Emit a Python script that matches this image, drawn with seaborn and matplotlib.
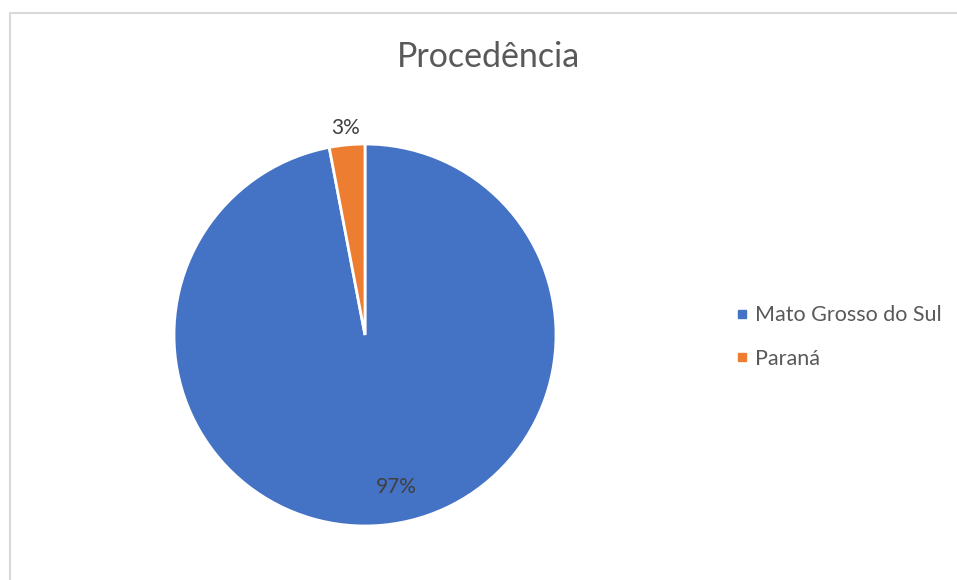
import matplotlib
matplotlib.use("Agg")
import matplotlib.pyplot as plt
from matplotlib.lines import Line2D
import numpy as np
import seaborn as sns

categories = ["Mato Grosso do Sul", "Paraná"]
values = [97, 3]
pct_labels = ["97%", "3%"]
colors = ["#4472C4", "#ED7D31"]
title = "Procedência"

sns.set_theme(style="white")
plt.rcParams['font.family'] = ['Lato', 'DejaVu Sans']

fig = plt.figure(figsize=(9.57, 5.8), dpi=100)
fig.patch.set_facecolor("white")

# border lines (left and top)
fig.add_artist(Line2D([10/957, 10/957], [0, 1 - 13/580], color="#D9D9D9", lw=1.5,
                      transform=fig.transFigure))
fig.add_artist(Line2D([10/957, 1], [1 - 13/580, 1 - 13/580], color="#D9D9D9", lw=1.5,
                      transform=fig.transFigure))

ax = fig.add_axes([174/957, 54/580, 382/957, 382/580])
wedges, _ = ax.pie(values, colors=colors, startangle=90, counterclock=False,
                   wedgeprops=dict(edgecolor="white", linewidth=2))
ax.set_xlim(-1, 1)
ax.set_ylim(-1, 1)
ax.set_aspect("equal")
ax.axis("off")

dists = [0.80, 1.09]
offsets = [0.09, 0.0]
for w, lab, d, off in zip(wedges, pct_labels, dists, offsets):
    ang = np.deg2rad((w.theta1 + w.theta2) / 2)
    ax.text(d * np.cos(ang) + off, d * np.sin(ang), lab, ha="center", va="center",
            fontsize=15, color="#404040")

fig.text(489/957, 1 - 57/580, title, ha="center", va="center", fontsize=24.5,
         color="#595959")

handles = [Line2D([0], [0], marker="s", linestyle="none", markersize=6,
                  markerfacecolor=c, markeredgecolor=c) for c in colors]
leg = fig.legend(handles, categories, loc="center left",
                 bbox_to_anchor=(716/957, 1 - 337/580), frameon=False,
                 fontsize=15.5, labelspacing=1.1, handlelength=0.6, handletextpad=0.3)
for t in leg.get_texts():
    t.set_color("#595959")

fig.savefig("out.png", dpi=100)
